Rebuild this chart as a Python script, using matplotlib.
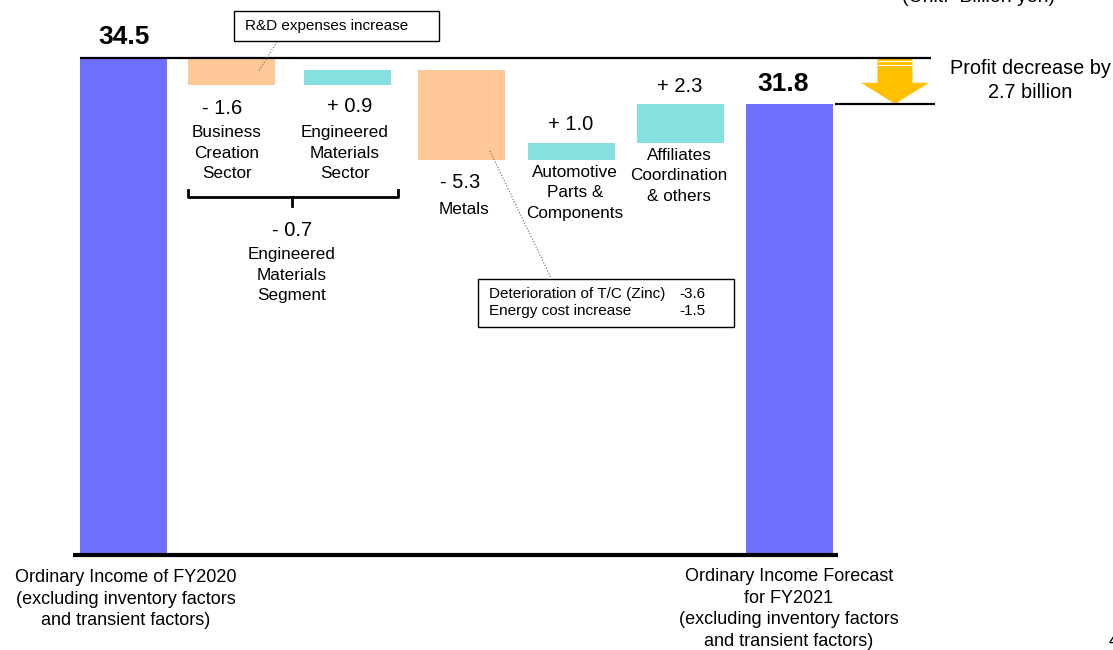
import matplotlib
matplotlib.use("Agg")
import matplotlib.pyplot as plt
from matplotlib.patches import Polygon, Rectangle

plt.rcParams['font.family'] = ['Liberation Sans', 'DejaVu Sans']

# data (billion yen)
start_value = 34.5
end_value = 31.8
deltas = [-1.6, 0.9, -5.3, 1.0, 2.3]
delta_labels = ["- 1.6", "+ 0.9", "- 5.3", "+ 1.0", "+ 2.3"]
delta_names = ["Business\nCreation\nSector", "Engineered\nMaterials\nSector",
               "Metals", "Automotive\nParts &\nComponents",
               "Affiliates\nCoordination\n& others"]
segment_label = "- 0.7"
segment_name = "Engineered\nMaterials\nSegment"
start_name = "Ordinary Income of FY2020\n(excluding inventory factors\nand transient factors)"
end_name = "Ordinary Income Forecast\nfor FY2021\n(excluding inventory factors\nand transient factors)"
metals_items = ["Deterioration of T/C (Zinc)", "Energy cost increase"]
metals_values = ["-3.6", "-1.5"]

axis_floor = 5.26     # broken axis: bars are cut at this level

blue = "#7070ff"
orange = "#ffc896"
teal = "#86e0e0"
arrow_col = "#ffc000"

W, H = 1113, 650
fig = plt.figure(figsize=(W / 100, H / 100), dpi=100)
ax = fig.add_axes([0, 0, 1, 1])
# x axis in pixels of the slide, y scaled to 17 px per billion yen
ytop_px, ypx = 58.0, 17.0
ax.set_xlim(0, W)
ax.set_ylim(start_value - (H - ytop_px) / ypx, start_value + ytop_px / ypx)
ax.axis("off")
bar_x = [123.5, 231.5, 347.5, 461.5, 571, 680, 789.5]
bw = 87

def px(x, y):
    return x / W, 1 - y / H

def ftext(x, y, s, **kw):
    kw.setdefault("ha", "center")
    kw.setdefault("va", "center")
    kw.setdefault("linespacing", 1.45)
    return fig.text(*px(x, y), s, **kw)

# totals
ax.bar([bar_x[0], bar_x[-1]], [start_value - axis_floor, end_value - axis_floor],
       bottom=axis_floor, width=bw, color=blue, zorder=2)
# steps
level = start_value
for i, d in enumerate(deltas):
    ax.bar(bar_x[i + 1], abs(d), bottom=min(level, level + d), width=bw,
           color=orange if d < 0 else teal, zorder=2)
    level += d

# lines
ax.hlines(start_value, 80, 931, color="black", lw=1.6, zorder=3)
ax.hlines(end_value, 835, 935, color="black", lw=1.6, zorder=3)
ax.hlines(axis_floor, 73, 838, color="black", lw=3.0, zorder=3)

# profit decrease arrow
ac, sw, hw = 895, 17.5, 34
hy = start_value - 0.54 * (start_value - end_value)
ax.add_patch(Polygon([(ac - sw, start_value), (ac + sw, start_value), (ac + sw, hy),
                      (ac + hw, hy), (ac, end_value), (ac - hw, hy), (ac - sw, hy)],
                     closed=True, color=arrow_col, lw=0, zorder=2))
for yy in (start_value - 0.2, start_value - 0.44):
    ax.hlines(yy, ac - sw, ac + sw, color="white", lw=0.8, zorder=3)

ftext(1030, 68, "Profit decrease by", fontsize=14.3)
ftext(1030, 92, "2.7 billion", fontsize=14.3)
ftext(979, -3, "(Unit:  Billion yen)", fontsize=14)
ftext(1109, 642, "4", fontsize=13, ha="left")

# totals labels
ftext(124, 37, f"{start_value}", fontsize=19, fontweight="bold")
ftext(783, 84, f"{end_value}", fontsize=19, fontweight="bold")

# step labels
val_pos = [(222, 108), (350, 106), (460, 183), (571, 124), (680, 86)]
name_pos = [(227, 153), (345, 153), (464, 210), (575, 193), (679, 176)]
for lab, nm, vp, np_ in zip(delta_labels, delta_names, val_pos, name_pos):
    ftext(*vp, lab, fontsize=14.5)
    ftext(*np_, nm, fontsize=12.3)

# brace for engineered materials segment
bx = [x / W for x in (188, 188, 398, 398)]
by = [1 - y / H for y in (190, 197, 197, 190)]
fig.add_artist(plt.Line2D(bx, by, color="black", lw=2.0))
fig.add_artist(plt.Line2D([292 / W, 292 / W], [1 - 197 / H, 1 - 206 / H], color="black", lw=2.0))
ftext(292, 230, segment_label, fontsize=14.5)
ftext(292, 275, segment_name, fontsize=12.3)

# R&D callout
fig.add_artist(Rectangle(px(234, 41), 205 / W, 30 / H, fill=False, ec="black", lw=1.0))
ftext(245, 26, "R&D expenses increase", fontsize=11, ha="left")
fig.add_artist(plt.Line2D([277 / W, 258 / W], [1 - 42 / H, 1 - 72 / H], color="#666666",
                          lw=0.8, ls=":"))

# metals callout
fig.add_artist(Rectangle(px(478, 327), 256 / W, 48 / H, fill=False, ec="black", lw=1.0))
for k, (item, v) in enumerate(zip(metals_items, metals_values)):
    ftext(489, 294 + 17 * k, item, fontsize=11, ha="left")
    ftext(679, 294 + 17 * k, v, fontsize=11, ha="left")
fig.add_artist(plt.Line2D([490 / W, 551 / W], [1 - 151 / H, 1 - 278 / H], color="#666666",
                          lw=0.8, ls=":"))

# bottom labels
ftext(126, 599, start_name, fontsize=13, linespacing=1.38)
ftext(789, 609, end_name, fontsize=13, linespacing=1.38)

fig.savefig("out.png", dpi=100)
